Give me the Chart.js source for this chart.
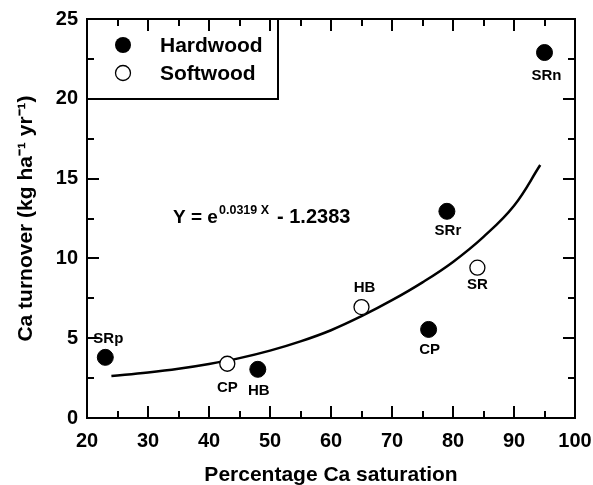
<!DOCTYPE html>
<html>
<head>
<meta charset="utf-8">
<script src="https://cdn.jsdelivr.net/npm/chart.js@4/dist/chart.umd.min.js"></script>
<style>
  html, body { margin: 0; padding: 0; background: #fff; }
  #c { display: block; }
</style>
</head>
<body>
<canvas id="c" width="593" height="485"></canvas>
<script>
// ---- data ----
const hardwoodX = [23, 48, 76, 79, 95];
const hardwoodY = [3.8, 3.05, 5.55, 12.95, 22.9];
const hardwoodSites = ['SRp', 'HB', 'CP', 'SRr', 'SRn'];

const softwoodX = [43, 65, 84];
const softwoodY = [3.4, 6.95, 9.42];
const softwoodSites = ['CP', 'HB', 'SR'];

// fitted curve, points
const fitX = [24, 30, 35, 40, 45, 50, 55, 60, 65, 70, 75, 80, 85, 90, 94.3];
const fitY = [2.63, 2.85, 3.08, 3.38, 3.75, 4.22, 4.8, 5.5, 6.38, 7.38, 8.5, 9.78, 11.35, 13.3, 15.85];

const xTicks = [20, 30, 40, 50, 60, 70, 80, 90, 100];
const yTicks = [0, 5, 10, 15, 20, 25];

const xTitle = 'Percentage Ca saturation';
const yTitle = 'Ca turnover (kg ha\u207B\u00B9 yr\u207B\u00B9)';
const eqMain = 'Y = e';
const eqExp = '0.0319 X';
const eqTail = '- 1.2383';
const legendNames = ['Hardwood', 'Softwood'];

// ---- label placement (style, pixel offsets from each marker) ----
const hardwoodLabelOffset = [[3, -18], [1, 22], [1, 20], [1, 20], [2, 23]];
const softwoodLabelOffset = [[0, 24], [3, -19], [0, 17]];

const FONT = '"Liberation Sans", Arial, Helvetica, sans-serif';
const INK = '#000';

const toPts = (xs, ys) => xs.map((x, i) => ({ x: x, y: ys[i] }));

const decor = {
  id: 'decor',
  afterDraw(chart) {
    const ctx = chart.ctx;
    const sx = chart.scales.x, sy = chart.scales.y;
    const L = sx.getPixelForValue(20), R = sx.getPixelForValue(100);
    const T = sy.getPixelForValue(25), B = sy.getPixelForValue(0);
    ctx.save();
    ctx.strokeStyle = INK;
    ctx.fillStyle = INK;
    ctx.lineWidth = 2;

    // frame
    ctx.beginPath();
    ctx.moveTo(L, T); ctx.lineTo(R, T); ctx.lineTo(R, B); ctx.lineTo(L, B); ctx.closePath();
    ctx.stroke();

    // inward ticks on all four sides
    const major = 12, minor = 7;
    ctx.beginPath();
    for (let k = 0; k <= 16; k++) {
      const v = 20 + k * 5;
      const len = (k % 2 === 0) ? major : minor;
      const px = Math.round(sx.getPixelForValue(v));
      ctx.moveTo(px, B); ctx.lineTo(px, B - len);
      ctx.moveTo(px, T); ctx.lineTo(px, T + len);
    }
    for (let k = 0; k <= 10; k++) {
      const v = k * 2.5;
      const len = (k % 2 === 0) ? major : minor;
      const py = Math.round(sy.getPixelForValue(v));
      ctx.moveTo(L, py); ctx.lineTo(L + len, py);
      ctx.moveTo(R, py); ctx.lineTo(R - len, py);
    }
    ctx.stroke();

    // point labels
    ctx.font = 'bold 15px ' + FONT;
    ctx.textAlign = 'center';
    ctx.textBaseline = 'middle';
    hardwoodX.forEach((x, i) => {
      const px = sx.getPixelForValue(x), py = sy.getPixelForValue(hardwoodY[i]);
      const o = hardwoodLabelOffset[i];
      ctx.fillText(hardwoodSites[i], px + o[0], py + o[1]);
    });
    softwoodX.forEach((x, i) => {
      const px = sx.getPixelForValue(x), py = sy.getPixelForValue(softwoodY[i]);
      const o = softwoodLabelOffset[i];
      ctx.fillText(softwoodSites[i], px + o[0], py + o[1]);
    });

    // equation
    ctx.textAlign = 'left';
    ctx.textBaseline = 'alphabetic';
    ctx.font = 'bold 19px ' + FONT;
    ctx.fillText(eqMain, 173, 223);
    ctx.font = 'bold 12.5px ' + FONT;
    ctx.fillText(eqExp, 219, 214);
    ctx.font = 'bold 20px ' + FONT;
    ctx.fillText(eqTail, 277, 223);

    // legend box
    ctx.lineWidth = 2;
    ctx.beginPath();
    ctx.moveTo(L, T + 80); ctx.lineTo(L + 191, T + 80); ctx.lineTo(L + 191, T);
    ctx.stroke();
    ctx.beginPath();
    ctx.arc(123, 45, 8, 0, Math.PI * 2);
    ctx.fillStyle = INK; ctx.fill();
    ctx.beginPath();
    ctx.arc(123, 73, 7.5, 0, Math.PI * 2);
    ctx.fillStyle = '#fff'; ctx.fill();
    ctx.lineWidth = 1.3; ctx.stroke();
    ctx.fillStyle = INK;
    ctx.font = 'bold 21px ' + FONT;
    ctx.textBaseline = 'middle';
    ctx.fillText(legendNames[0], 160, 46);
    ctx.fillText(legendNames[1], 160, 74);

    ctx.restore();
  }
};

new Chart(document.getElementById('c'), {
  type: 'scatter',
  data: {
    datasets: [
      {
        type: 'line',
        label: 'Fit',
        data: toPts(fitX, fitY),
        borderColor: INK,
        borderWidth: 2.5,
        pointRadius: 0,
        tension: 0.4,
        fill: false,
        order: 3
      },
      {
        label: legendNames[0],
        data: toPts(hardwoodX, hardwoodY),
        pointRadius: 8,
        pointBackgroundColor: INK,
        pointBorderColor: INK,
        pointBorderWidth: 1,
        order: 1
      },
      {
        label: legendNames[1],
        data: toPts(softwoodX, softwoodY),
        pointRadius: 7.5,
        pointBackgroundColor: '#fff',
        pointBorderColor: INK,
        pointBorderWidth: 1.3,
        order: 2
      }
    ]
  },
  options: {
    responsive: false,
    animation: false,
    layout: { padding: { top: 19, right: 18, left: 0, bottom: 0 } },
    plugins: { legend: { display: false }, tooltip: { enabled: false } },
    scales: {
      x: {
        type: 'linear',
        min: 20, max: 100,
        afterBuildTicks: (s) => { s.ticks = xTicks.map(v => ({ value: v })); },
        afterFit: (s) => { s.height = 67; s.paddingLeft = 0; s.paddingRight = 18; },
        ticks: { color: INK, font: { family: FONT, size: 20, weight: 'bold' }, padding: 11 },
        grid: { display: false, drawTicks: false },
        border: { display: false },
        title: { display: true, text: xTitle, color: INK, font: { family: FONT, size: 21, weight: 'bold' }, padding: { top: 0, bottom: -3 } }
      },
      y: {
        type: 'linear',
        min: 0, max: 25,
        afterBuildTicks: (s) => { s.ticks = yTicks.map(v => ({ value: v })); },
        afterFit: (s) => { s.width = 87; s.paddingTop = 19; s.paddingBottom = 0; },
        ticks: { color: INK, font: { family: FONT, size: 20, weight: 'bold' }, padding: 9 },
        grid: { display: false, drawTicks: false },
        border: { display: false },
        title: { display: true, text: yTitle, color: INK, font: { family: FONT, size: 21, weight: 'bold' }, padding: { top: 14, bottom: 0 } }
      }
    }
  },
  plugins: [decor]
});
</script>
</body>
</html>
